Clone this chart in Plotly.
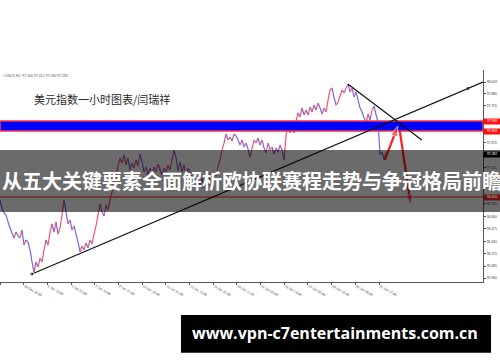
import plotly.graph_objects as go

# ---- data ----
close = [96.775, 96.691, 96.639, 96.619, 96.546, 96.483, 96.431, 96.379, 96.441, 96.400,
         96.379, 96.462, 96.306, 96.358, 96.337, 96.254, 96.129, 96.024, 96.129, 96.076,
         96.170, 96.129, 96.254, 96.358, 96.306, 96.441, 96.525, 96.441, 96.546, 96.420,
         96.483, 96.619, 96.775, 96.650, 96.525, 96.566, 96.462, 96.504, 96.420, 96.337,
         96.233, 96.295, 96.254, 96.327, 96.275, 96.358, 96.316, 96.420, 96.504, 96.619,
         96.733, 96.650, 96.608, 96.723, 96.671, 96.775, 96.858, 96.921, 97.025, 97.129,
         97.213, 97.161, 97.244, 97.140, 97.213, 97.088, 97.161, 97.108, 97.192, 97.129,
         97.254, 97.171, 97.067, 97.119, 97.035, 97.108, 97.046, 97.119, 97.067, 97.150,
         97.088, 97.035, 97.108, 97.067, 97.140, 97.088, 97.192, 97.296, 97.213, 97.077,
         97.171, 97.067, 97.140, 97.025, 97.108, 97.067, 96.983, 97.025, 96.931, 96.983,
         96.921, 97.004, 96.900, 96.963, 96.931, 97.046, 97.004, 97.067, 97.025, 97.129,
         97.192, 97.296, 97.369, 97.463, 97.400, 97.432, 97.390, 97.463, 97.442, 97.400,
         97.348, 97.400, 97.327, 97.369, 97.307, 97.223, 97.317, 97.400, 97.369, 97.421,
         97.348, 97.400, 97.317, 97.265, 97.369, 97.296, 97.327, 97.254, 97.317, 97.275,
         97.348, 97.296, 97.192, 97.452, 97.557, 97.473, 97.525, 97.473, 97.598, 97.682,
         97.640, 97.734, 97.661, 97.713, 97.661, 97.744, 97.692, 97.765, 97.713, 97.786,
         97.734, 97.671, 97.734, 97.692, 97.817, 97.922, 97.942, 97.838, 97.765, 97.796,
         97.859, 97.922, 97.890, 97.942, 97.984, 97.901, 97.942, 97.849, 97.901, 97.817,
         97.734, 97.692, 97.630, 97.588, 97.671, 97.609, 97.713, 97.755, 97.661, 97.588,
         97.244, 97.275, 97.192, 97.275]
bars_per_sample = 3.04          # hourly bars between two read samples

x_tick_labels = ["27 Dec 2019", "30 Dec 20:00", "2 Jan 10:00", "3 Jan 21:00", "7 Jan 10:00",
                 "8 Jan 21:00", "10 Jan 10:00", "13 Jan 21:00", "15 Jan 13:00", "16 Jan 22:00",
                 "20 Jan 11:00", "22 Jan 05:00", "23 Jan 16:00", "27 Jan 05:00", "28 Jan 16:00",
                 "30 Jan 06:00", "31 Jan 17:00"]
bars_per_label = 36

y_ticks = [98.003, 97.880, 97.755, 97.370, 97.115, 96.735, 96.600,
           96.475, 96.340, 96.215, 96.085, 95.960]

zone_low, zone_high = 97.494, 97.598          # blue resistance band
support_level = 96.806                        # dark red horizontal line
bid_price = 97.282

rise_line_bars = [48.6, 734]
rise_line_price = [96.003, 98.005]
rise_anchor = (711, 97.938)
fall_line_bars = [528.6, 641.0]
fall_line_price = [97.984, 97.400]
up_arrow_bars = [584.8, 604.6]
up_arrow_price = [97.192, 97.546]
down_arrow_bars = [607.6, 624.3]
down_arrow_price = [97.494, 96.723]

header_text = "▪ USDX,H1  97.300 97.312 97.282 97.282"
title_text = "美元指数一小时图表/闫瑞祥"
banner_text = "从五大关键要素全面解析欧协联赛程走势与争冠格局前瞻"
watermark_text = "www.vpn-c7entertainments.com.cn"

# ---- build figure ----
X_MAX = 734
bars = [i * bars_per_sample for i in range(len(close))]

up_x, up_y, dn_x, dn_y = [], [], [], []
for i in range(1, len(close)):
    seg_x = [bars[i - 1], bars[i], None]
    seg_y = [close[i - 1], close[i], None]
    if close[i] >= close[i - 1]:
        up_x += seg_x; up_y += seg_y
    else:
        dn_x += seg_x; dn_y += seg_y

fig = go.Figure()
fig.add_trace(go.Scatter(x=dn_x, y=dn_y, mode="lines", line=dict(color="#6a6af2", width=1.2),
                         hoverinfo="skip"))
fig.add_trace(go.Scatter(x=up_x, y=up_y, mode="lines", line=dict(color="#f2546c", width=1.2),
                         hoverinfo="skip"))
# support line
fig.add_trace(go.Scatter(x=[0, X_MAX], y=[support_level, support_level], mode="lines",
                         line=dict(color="#ff2a2a", width=1.2), hoverinfo="skip"))
# blue band
fig.add_trace(go.Scatter(x=[0, X_MAX, X_MAX, 0, 0],
                         y=[zone_low, zone_low, zone_high, zone_high, zone_low],
                         mode="lines", fill="toself", fillcolor="#0000ff",
                         line=dict(color="#ff3040", width=1.6), hoverinfo="skip"))
# trend lines
fig.add_trace(go.Scatter(x=rise_line_bars, y=rise_line_price, mode="lines+markers",
                         line=dict(color="#111111", width=1.2),
                         marker=dict(size=[4, 0], color="#111111"), hoverinfo="skip"))
fig.add_trace(go.Scatter(x=[rise_anchor[0]], y=[rise_anchor[1]], mode="markers",
                         marker=dict(size=3, color="#333333"), hoverinfo="skip"))
fig.add_trace(go.Scatter(x=fall_line_bars, y=fall_line_price, mode="lines",
                         line=dict(color="#111111", width=1.2), hoverinfo="skip"))
# arrows
for bx, py in ((up_arrow_bars, up_arrow_price), (down_arrow_bars, down_arrow_price)):
    fig.add_trace(go.Scatter(x=bx, y=py, mode="lines+markers",
                             line=dict(color="#ff2020", width=2.2),
                             marker=dict(symbol="arrow", size=[0, 11], color="#ff2020",
                                         angleref="previous"),
                             hoverinfo="skip"))

small = dict(family="Liberation Sans, Arial, sans-serif", size=3.3, color="#333333")

fig.update_layout(
    width=500, height=362,
    margin=dict(l=0, r=17, t=70, b=80, autoexpand=False),
    paper_bgcolor="white", plot_bgcolor="white", showlegend=False,
    xaxis=dict(range=[0, X_MAX], tickvals=[k * bars_per_label for k in range(len(x_tick_labels))],
               ticktext=x_tick_labels, ticks="outside", ticklen=2, tickcolor="#555555",
               ticklabelposition="outside right", showline=True, linecolor="#555555",
               linewidth=1, showgrid=False, zeroline=False, tickfont=small, fixedrange=True),
    yaxis=dict(range=[95.92, 98.13], side="right", tickvals=y_ticks,
               ticktext=[f"{v:.3f}" for v in y_ticks], ticks="outside", ticklen=2,
               tickcolor="#555555", showline=True, linecolor="#555555", linewidth=1,
               showgrid=False, zeroline=False, tickfont=small, fixedrange=True),
)

shapes = [
    dict(type="rect", xref="paper", yref="paper", x0=-0.01, x1=1.05, y0=0.3302, y1=0.6226,
         fillcolor="rgba(0,0,0,0.58)", line=dict(width=0), layer="above"),
    dict(type="rect", xref="paper", yref="paper", x0=0.3747, x1=1.0166, y0=-0.3335, y1=-0.1557,
         fillcolor="black", line=dict(width=0), layer="above"),
]
fig.update_layout(shapes=shapes)

def price_label(y, text, bg, fg="white"):
    return dict(xref="paper", yref="y", x=1.001, y=y, xanchor="left", yanchor="middle",
                text=text, showarrow=False, bgcolor=bg, width=16, height=4.6, borderpad=0,
                font=dict(family="Liberation Sans, Arial, sans-serif", size=3.3, color=fg))

annotations = [
    dict(xref="paper", yref="paper", x=0.002, y=0.973, xanchor="left", yanchor="middle",
         text=header_text, showarrow=False,
         font=dict(family="Liberation Sans, DejaVu Sans, sans-serif", size=3.5, color="#555555")),
    dict(xref="paper", yref="paper", x=0.0656, y=0.8623, xanchor="left", yanchor="middle",
         text=title_text, showarrow=False,
         font=dict(family="Noto Sans CJK SC", size=11, color="#2a2a2a")),
    price_label(zone_high, f"{zone_high:.3f}", "#ff1010"),
    price_label(zone_low, f"{zone_low:.3f}", "#ff1010"),
    price_label(97.25, f"{bid_price:.3f}", "#000000"),
    price_label(support_level, f"{support_level:.3f}", "#6e1414", "#bbbbbb"),
    dict(xref="paper", yref="paper", x=0.5211, y=0.4788, xanchor="center", yanchor="middle",
         text=f"<b>{banner_text}</b>", showarrow=False,
         font=dict(family="Noto Sans CJK SC", size=20, color="white")),
    dict(xref="paper", yref="paper", x=0.6933, y=-0.2429, xanchor="center", yanchor="middle",
         text=f"<b>{watermark_text}</b>", showarrow=False,
         font=dict(family="Open Sans, DejaVu Sans, sans-serif", size=16, color="white")),
]
fig.update_layout(annotations=annotations)

fig.write_html("out.html", config={"displayModeBar": False})
